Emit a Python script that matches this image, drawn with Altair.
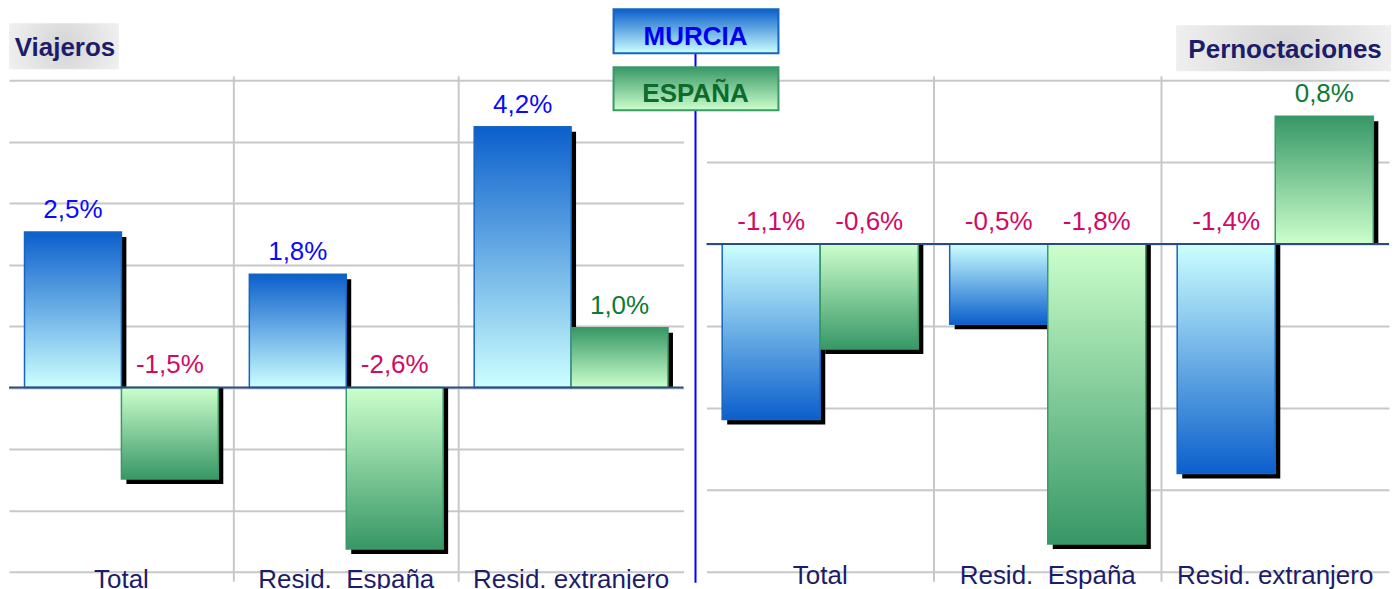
import altair as alt
import pandas as pd

categories = ["Total", "Resid.\u00a0 España", "Resid. extranjero"]
series = ["MURCIA", "ESPAÑA"]
viajeros_murcia = [2.53, 1.84, 4.24]
viajeros_espana = [-1.49, -2.63, 0.97]
pernoct_murcia = [-1.07, -0.49, -1.40]
pernoct_espana = [-0.64, -1.83, 0.78]
viajeros_ticks = [-3, -2, -1, 0, 1, 2, 3, 4, 5]
pernoct_ticks = [-2, -1.5, -1, -0.5, 0, 0.5, 1]
panel_titles = ["Viajeros", "Pernoctaciones"]

FONT = "Liberation Sans"
NAVY = "#1c1c6b"
GRID = "#c8c8c8"
ZERO = "#2b4c7e"
BLUE_DARK = "#0b5fcc"
BLUE_LIGHT = "#ccffff"
GREEN_DARK = "#379766"
GREEN_LIGHT = "#ccffcc"
BLUE_STROKE = "#1565c0"
GREEN_STROKE = "#3a9a66"
BLUE_TXT = "#0a0aff"
GREEN_TXT = "#0e7a35"
RED_TXT = "#d10a64"


def frame(m, e):
    rows = []
    for c, a, b in zip(categories, m, e):
        rows.append({"cat": c, "serie": "MURCIA", "v": a})
        rows.append({"cat": c, "serie": "ESPAÑA", "v": b})
    df = pd.DataFrame(rows)
    df["label"] = df["v"].map(lambda v: f"{v:.1f}".replace(".", ",") + "%")
    return df


def lin(top, bottom):
    return alt.Gradient(
        gradient="linear",
        stops=[alt.GradientStop(offset=0, color=top), alt.GradientStop(offset=1, color=bottom)],
        x1=0, x2=0, y1=0, y2=1,
    )


def radial():
    return alt.Gradient(
        gradient="radial",
        stops=[alt.GradientStop(offset=0, color="#d4d4d4"), alt.GradientStop(offset=1, color="#f4f4f4")],
        x1=0.5, y1=0.5, r1=0, x2=0.5, y2=0.5, r2=0.6,
    )


def panel(df, domain, ticks, W, H, lp, title, tbox, extras):
    xaxis = alt.Axis(title=None, labelFontSize=26, labelFont=FONT, labelColor=NAVY,
                     ticks=False, tickSize=0, domain=False, grid=False, labelAngle=0,
                     labelPadding=lp, labelBaseline="alphabetic", orient="bottom",
                     labelLimit=0, labelOverlap=False)
    xscale = alt.Scale(domain=categories, paddingInner=0, paddingOuter=0)
    yaxis = alt.Axis(values=ticks, grid=True, gridColor=GRID, gridWidth=2, labels=False,
                     ticks=False, domain=False, title=None)
    yscale = alt.Scale(domain=domain, nice=False)
    xs = alt.X("cat:N", sort=categories, scale=xscale, axis=xaxis)
    xo = alt.XOffset("serie:N", sort=series, scale=alt.Scale(domain=series, paddingInner=0, paddingOuter=0.16))
    # shadow: same band layout, shifted 5px right through the outer-padding alignment
    xo_sh = alt.XOffset("serie:N", sort=series,
                        scale=alt.Scale(domain=series, paddingInner=0, paddingOuter=0.16, align=0.66))
    ys = alt.Y("v:Q", scale=yscale, axis=yaxis)
    base = alt.Chart(df)

    seps = alt.Chart(pd.DataFrame({"cat": categories[1:]})).mark_rule(color=GRID, strokeWidth=2).encode(
        x=alt.X("cat:N", bandPosition=0, sort=categories, scale=xscale, axis=xaxis),
        y=alt.value(-4), y2=alt.value(H + 10))

    shadow = base.mark_bar(color="black", yOffset=5).encode(x=xs, xOffset=xo_sh, y=ys, y2=alt.datum(0))

    inner = []
    specs = [
        ("MURCIA", True, lin(BLUE_DARK, BLUE_LIGHT), BLUE_STROKE),
        ("MURCIA", False, lin(BLUE_LIGHT, BLUE_DARK), BLUE_STROKE),
        ("ESPAÑA", True, lin(GREEN_DARK, GREEN_LIGHT), GREEN_STROKE),
        ("ESPAÑA", False, lin(GREEN_LIGHT, GREEN_DARK), GREEN_STROKE),
    ]
    for s, pos, g, st in specs:
        test = (alt.datum.serie == s) & ((alt.datum.v >= 0) if pos else (alt.datum.v < 0))
        inner.append(
            base.transform_filter(test).mark_bar(fill=g, stroke=st, strokeWidth=1.5).encode(
                x=xs, xOffset=xo, y=ys, y2=alt.datum(0))
        )

    zero = alt.Chart(pd.DataFrame({"v": [0]})).mark_rule(color=ZERO, strokeWidth=2).encode(y=ys)
    inner.append(zero)

    labels = base.transform_calculate(ly="max(datum.v, 0)").mark_text(
        fontSize=26, font=FONT, dy=-14, baseline="alphabetic", align="center").encode(
        x=xs, xOffset=xo,
        y=alt.Y("ly:Q", scale=yscale, axis=yaxis),
        text="label:N",
        color=alt.condition(alt.datum.v < 0, alt.value(RED_TXT),
                            alt.Color("serie:N", scale=alt.Scale(domain=series, range=[BLUE_TXT, GREEN_TXT]), legend=None)),
    )
    inner.append(labels)

    tdf = alt.Chart(pd.DataFrame({"t": [title]}))
    x0, x1, y0, y1, cx, by = tbox
    inner.append(tdf.mark_rect(fill=radial()).encode(
        x=alt.value(x0), x2=alt.value(x1), y=alt.value(y0), y2=alt.value(y1)))
    inner.append(tdf.mark_text(font=FONT, fontSize=26, fontWeight="bold", color=NAVY,
                               align="center", baseline="alphabetic").encode(
        x=alt.value(cx), y=alt.value(by), text="t:N"))
    inner.extend(extras)
    return (alt.layer(seps, shadow, alt.layer(*inner))
            .resolve_scale(xOffset="independent")
            .properties(width=W, height=H))


H = 492
LW = 675
RW = 683

# Legend and divider (drawn in the right panel, extending left)
leg = pd.DataFrame({"serie": series})
divider = alt.Chart(leg.head(1)).mark_rule(color="#0000ff", strokeWidth=2).encode(
    x=alt.value(-11), y=alt.value(-71), y2=alt.value(503))
leg_m = alt.Chart(leg.head(1))
leg_e = alt.Chart(leg.tail(1))
legend_layers = [
    divider,
    leg_m.mark_rect(fill=lin(BLUE_DARK, BLUE_LIGHT), stroke=BLUE_STROKE, strokeWidth=2).encode(
        x=alt.value(-93), x2=alt.value(72), y=alt.value(-71), y2=alt.value(-27)),
    leg_m.mark_text(font=FONT, fontSize=26, fontWeight="bold", color="#0000ee",
                    align="center", baseline="alphabetic").encode(
        x=alt.value(-11), y=alt.value(-35), text="serie:N"),
    leg_e.mark_rect(fill=lin(GREEN_DARK, GREEN_LIGHT), stroke=GREEN_STROKE, strokeWidth=2).encode(
        x=alt.value(-93), x2=alt.value(72), y=alt.value(-13), y2=alt.value(30)),
    leg_e.mark_text(font=FONT, fontSize=26, fontWeight="bold", color="#0d6b2e",
                    align="center", baseline="alphabetic").encode(
        x=alt.value(-11), y=alt.value(22), text="serie:N"),
]

left = panel(frame(viajeros_murcia, viajeros_espana), [-3, 5], viajeros_ticks, LW, H, 16,
             panel_titles[0], (0, 110, -57, -11, 56, -24), [])
right = panel(frame(pernoct_murcia, pernoct_espana), [-2, 1], pernoct_ticks, RW, H, 12,
              panel_titles[1], (470, 685, -55, -9, 579, -22), legend_layers)

chart = alt.hconcat(left, right, spacing=23, bounds="flush").configure_view(stroke=None).properties(padding=0)

chart.save("out.html", embed_options={"renderer": "svg", "actions": False})
